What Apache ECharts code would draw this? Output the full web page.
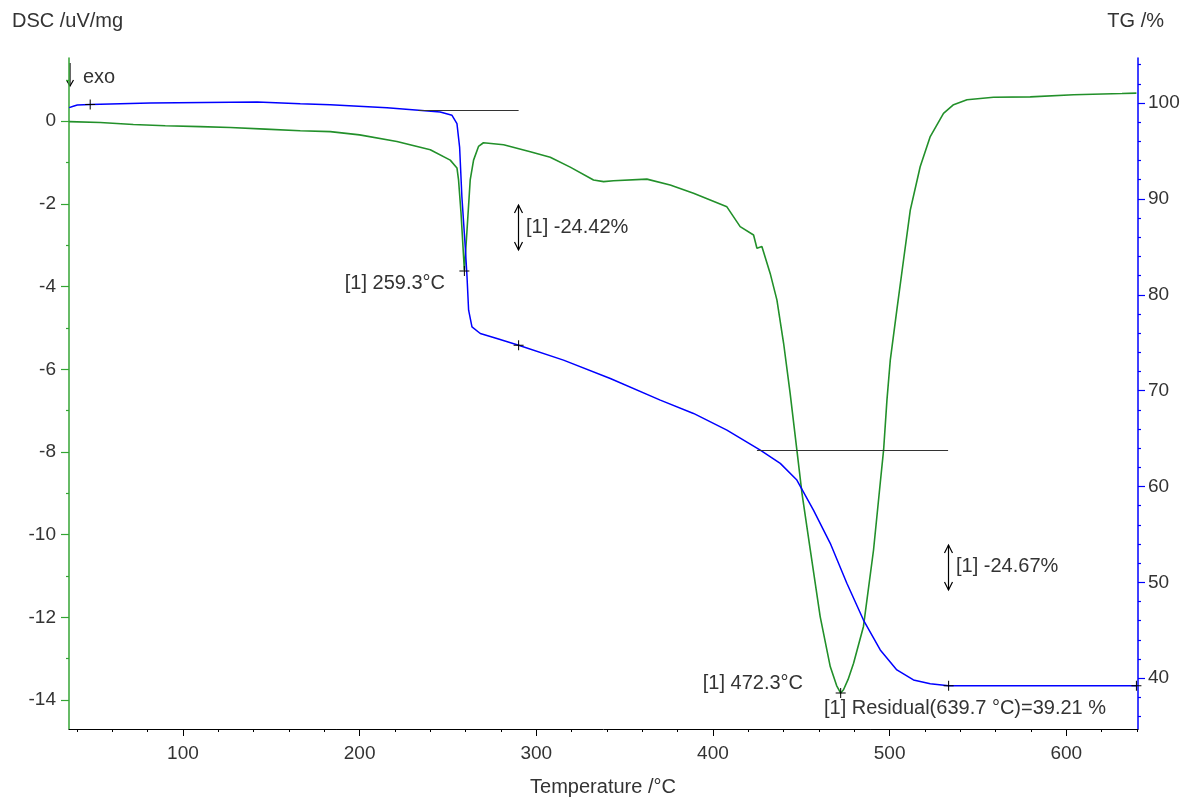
<!DOCTYPE html>
<html>
<head>
<meta charset="utf-8">
<script src="https://cdn.jsdelivr.net/npm/echarts@6/dist/echarts.min.js"></script>
<style>
html,body{margin:0;padding:0;background:#fff;}
#chart{width:1187px;height:799px;}
</style>
</head>
<body>
<div id="chart"></div>
<script>
// ---- data ----
const dscTemp = [35.6,53.2,71.9,90.0,109.8,126.8,146.6,166.4,183.4,200.0,221.1,240.0,251.3,255.1,256.0,257.4,259.3,260.8,262.6,264.5,267.3,270.1,281.5,296.6,307.9,319.2,332.4,338.1,343.7,362.6,375.8,389.0,407.9,415.4,423.0,424.9,427.7,432.4,436.2,440.0,443.7,447.5,450.4,455.1,460.7,466.4,470.0,472.3,473.9,476.5,479.6,485.2,490.9,494.7,496.6,498.5,500.4,504.1,507.9,511.7,517.3,523.0,530.5,536.2,543.8,558.8,579.6,604.1,631.5,639.7];
const dscValue = [-0.01,-0.03,-0.08,-0.11,-0.13,-0.15,-0.19,-0.23,-0.25,-0.33,-0.49,-0.69,-0.94,-1.13,-1.42,-2.22,-3.60,-2.63,-1.42,-0.94,-0.61,-0.52,-0.57,-0.74,-0.87,-1.11,-1.42,-1.46,-1.44,-1.40,-1.54,-1.74,-2.07,-2.55,-2.75,-3.07,-3.03,-3.68,-4.32,-5.37,-6.58,-7.95,-9.00,-10.37,-11.98,-13.19,-13.65,-13.83,-13.75,-13.50,-13.11,-12.22,-10.37,-8.75,-7.95,-6.74,-5.77,-4.56,-3.35,-2.15,-1.10,-0.37,0.19,0.40,0.52,0.58,0.59,0.64,0.67,0.68];

const tgTemp = [35.6,37.9,40.2,47.5,81.5,142.1,166.4,183.4,215.5,233.4,245.6,252.3,255.1,256.6,257.9,259.8,260.8,261.7,263.6,268.3,277.7,290.0,315.4,341.9,370.2,389.0,407.9,426.8,438.1,447.5,456.9,466.4,475.8,485.2,494.7,504.1,513.5,523.0,533.4,551.3,600.0,639.7];
const tgValue = [99.52,99.66,99.79,99.86,100.0,100.1,99.94,99.83,99.52,99.24,99.06,98.72,97.85,95.41,90.20,84.99,81.86,78.39,76.65,75.96,75.44,74.74,73.18,71.27,69.01,67.62,65.88,63.80,62.41,60.67,57.54,54.07,49.90,46.07,42.95,40.86,39.82,39.41,39.22,39.21,39.21,39.21];

const xMajorTicks = [100,200,300,400,500,600];
const xMinorTicks = [40,60,80,120,140,160,180,220,240,260,280,320,340,360,380,420,440,460,480,520,540,560,580,620,640];
const dscMajorTicks = [-14,-12,-10,-8,-6,-4,-2,0];
const dscMinorTicks = [-13,-11,-9,-7,-5,-3,-1,1];
const tgMajorTicks = [40,50,60,70,80,90,100];
const tgMinorTicks = [36,38,42,44,46,48,52,54,56,58,62,64,66,68,72,74,76,78,82,84,86,88,92,94,96,98,102,104];

// annotation anchors (data coordinates)
const tgBaseline1 = [[233.2,99.24],[290.0,99.24]];
const tgBaseline2 = [[424.9,63.80],[533.1,63.80]];
const tgMarkers = [[47.5,99.86],[290.0,74.74],[533.4,39.22],[639.7,39.21]];
const dscMarkers = [[259.3,-3.62],[472.3,-13.83]];

// ---- chart ----
const FONT = '"Liberation Sans", Arial, sans-serif';
const TXT = '#333333';
const GREEN_AX = '#34a534';
const GREEN = '#22902a';
const BLUE = '#0000ff';
const FS = 19;
const FT = 20;

const chart = echarts.init(document.getElementById('chart'), null, {renderer:'canvas'});

const crossPath = 'path://M0,4.5H10V5.5H0Z M4.5,0H5.5V10H4.5Z';

function zip(a,b){ return a.map((v,i)=>[v,b[i]]); }

const option = {
  animation:false,
  backgroundColor:'#ffffff',
  textStyle:{fontFamily:FONT},
  grid:{left:69,right:49,top:58,bottom:70,containLabel:false},
  xAxis:[
    {type:'value',min:35.5,max:640.6,position:'bottom',
     axisLine:{show:true,onZero:false,lineStyle:{color:'#000',width:1}},
     axisTick:{show:true,inside:false,length:7,customValues:xMajorTicks,lineStyle:{color:'#000'}},
     axisLabel:{show:true,customValues:xMajorTicks,margin:15,color:TXT,fontSize:FS,fontFamily:FONT},
     splitLine:{show:false}},
    {type:'value',min:35.5,max:640.6,position:'bottom',
     axisLine:{show:false,onZero:false},
     axisTick:{show:true,inside:false,length:3,customValues:xMinorTicks,lineStyle:{color:'#000'}},
     axisLabel:{show:false},
     splitLine:{show:false}}
  ],
  yAxis:[
    {type:'value',min:-14.7,max:1.53,position:'left',
     axisLine:{show:true,onZero:false,lineStyle:{color:GREEN_AX,width:1.5}},
     axisTick:{show:true,inside:false,length:8,customValues:dscMajorTicks,lineStyle:{color:GREEN_AX,width:1.2}},
     axisLabel:{show:true,customValues:dscMajorTicks,margin:13,color:TXT,fontSize:FS,fontFamily:FONT},
     splitLine:{show:false}},
    {type:'value',min:-14.7,max:1.53,position:'left',
     axisLine:{show:false,onZero:false},
     axisTick:{show:true,inside:false,length:3,customValues:dscMinorTicks,lineStyle:{color:GREEN_AX,width:1.2}},
     axisLabel:{show:false},
     splitLine:{show:false}},
    {type:'value',min:34.7,max:104.7,position:'right',
     axisLine:{show:true,onZero:false,lineStyle:{color:BLUE,width:1.5}},
     axisTick:{show:true,inside:false,length:7,customValues:tgMajorTicks,lineStyle:{color:BLUE,width:1.2}},
     axisLabel:{show:true,customValues:tgMajorTicks,margin:10,color:TXT,fontSize:FS,fontFamily:FONT},
     splitLine:{show:false}},
    {type:'value',min:34.7,max:104.7,position:'right',
     axisLine:{show:false,onZero:false},
     axisTick:{show:true,inside:false,length:3,customValues:tgMinorTicks,lineStyle:{color:BLUE,width:1.2}},
     axisLabel:{show:false},
     splitLine:{show:false}}
  ],
  series:[
    {name:'DSC',type:'line',xAxisIndex:0,yAxisIndex:0,data:zip(dscTemp,dscValue),
     showSymbol:false,symbol:'none',lineStyle:{color:GREEN,width:1.6},itemStyle:{color:GREEN},z:3,
     markPoint:{symbol:crossPath,symbolSize:10,itemStyle:{color:'#000'},label:{show:false},
       data:dscMarkers.map(p=>({coord:p}))}},
    {name:'TG',type:'line',xAxisIndex:0,yAxisIndex:2,data:zip(tgTemp,tgValue),
     showSymbol:false,symbol:'none',lineStyle:{color:BLUE,width:1.5},itemStyle:{color:BLUE},z:4,
     markLine:{silent:true,symbol:['none','none'],label:{show:false},
       lineStyle:{color:'#333',width:1.2,type:'solid'},
       data:[[{coord:tgBaseline1[0]},{coord:tgBaseline1[1]}],[{coord:tgBaseline2[0]},{coord:tgBaseline2[1]}]]},
     markPoint:{symbol:crossPath,symbolSize:10,itemStyle:{color:'#000'},label:{show:false},
       data:tgMarkers.map(p=>({coord:p}))}}
  ],
  graphic:[
    {type:'text',left:12,top:11,style:{text:'DSC /uV/mg',fill:TXT,font:FT+'px '+FONT}},
    {type:'text',right:23,top:11,style:{text:'TG /%',fill:TXT,font:FT+'px '+FONT}},
    {type:'text',x:603,y:787,style:{text:'Temperature /°C',fill:TXT,font:FT+'px '+FONT,textAlign:'center',textVerticalAlign:'middle'}},
    // exo arrow
    {type:'line',shape:{x1:70,y1:63,x2:70,y2:86},style:{stroke:'#000',lineWidth:1.2}},
    {type:'polyline',shape:{points:[[66.5,80],[70,86],[73.5,80]]},style:{stroke:'#000',fill:null,lineWidth:1.2}},
    {type:'text',x:83,y:77,style:{text:'exo',fill:TXT,font:FT+'px '+FONT,textVerticalAlign:'middle'}},
    // double arrow 1
    {type:'line',shape:{x1:518.5,y1:205,x2:518.5,y2:250},style:{stroke:'#000',lineWidth:1.2}},
    {type:'polyline',shape:{points:[[514.5,213],[518.5,205],[522.5,213]]},style:{stroke:'#000',fill:null,lineWidth:1.2}},
    {type:'polyline',shape:{points:[[514.5,242],[518.5,250],[522.5,242]]},style:{stroke:'#000',fill:null,lineWidth:1.2}},
    {type:'text',x:526,y:227,style:{text:'[1] -24.42%',fill:TXT,font:FT+'px '+FONT,textVerticalAlign:'middle'}},
    // double arrow 2
    {type:'line',shape:{x1:948.5,y1:545,x2:948.5,y2:590},style:{stroke:'#000',lineWidth:1.2}},
    {type:'polyline',shape:{points:[[944.5,553],[948.5,545],[952.5,553]]},style:{stroke:'#000',fill:null,lineWidth:1.2}},
    {type:'polyline',shape:{points:[[944.5,582],[948.5,590],[952.5,582]]},style:{stroke:'#000',fill:null,lineWidth:1.2}},
    {type:'text',x:956,y:566,style:{text:'[1] -24.67%',fill:TXT,font:FT+'px '+FONT,textVerticalAlign:'middle'}},
    // peak labels
    {type:'text',x:445,y:283,style:{text:'[1] 259.3°C',fill:TXT,font:FT+'px '+FONT,textAlign:'right',textVerticalAlign:'middle'}},
    {type:'text',x:803,y:683,style:{text:'[1] 472.3°C',fill:TXT,font:FT+'px '+FONT,textAlign:'right',textVerticalAlign:'middle'}},
    {type:'text',x:824,y:708,style:{text:'[1] Residual(639.7 °C)=39.21 %',fill:TXT,font:FT+'px '+FONT,textVerticalAlign:'middle'}}
  ]
};
chart.setOption(option);
</script>
</body>
</html>
